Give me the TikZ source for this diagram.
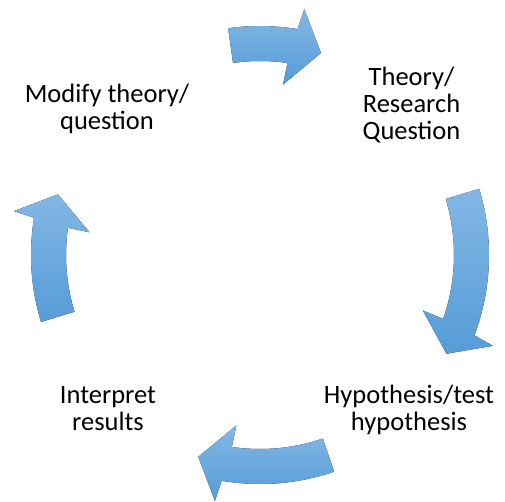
\documentclass[tikz,border=0pt]{standalone}
\usepackage{fontspec}
\setmainfont{Carlito}
\begin{document}
\begin{tikzpicture}[x=1pt,y=1pt,
  cyclearrow/.style={top color=arrowtop,bottom color=arrowbottom,draw=none},
  label/.style={align=center,anchor=base,inner sep=0pt,
    font=\fontsize{26.5}{27}\selectfont}]
\definecolor{arrowtop}{RGB}{131,183,228}
\definecolor{arrowbottom}{RGB}{86,156,216}
\useasboundingbox (0,0) rectangle (505,501);

% curved block arrow around the cycle centre, running clockwise
% #1 tail angle, #2 tip angle
\newcommand{\cyclearrowpath}[2]{%
  \pgfmathsetmacro{\hb}{#2+8}%
  \pgfmathsetmacro{\hbo}{\hb-0.65}%
  \pgfmathsetmacro{\hbi}{\hb+0.65}%
  \pgfmathsetmacro{\hho}{\hb-1.4}%
  \pgfmathsetmacro{\hhi}{\hb+1.1}%
  \fill[cyclearrow,shift={(260,246)}]
    (#1:229) arc[start angle=#1,end angle=\hbo,radius=229]
    -- (\hho:250) -- (#2:211) -- (\hhi:172) -- (\hbi:194)
    arc[start angle=\hbi,end angle=#1,radius=194] -- cycle;}

\cyclearrowpath{98}{73.2}
\cyclearrowpath{16.8}{-27.9}
\cyclearrowpath{-71.1}{-107}
\cyclearrowpath{197}{163.3}

% labels are placed by the baseline of their last line
\node[label] (theory) at (411.5,361.5) {Theory/\\Research\\Question};
\node[label] (hypo) at (409,71) {Hypothesis/test\\hypothesis};
\node[label] (interp) at (108,71) {Interpret\\results};
\node[label] (modify) at (107,371) {Modify theory/\\question};
\end{tikzpicture}
\end{document}
